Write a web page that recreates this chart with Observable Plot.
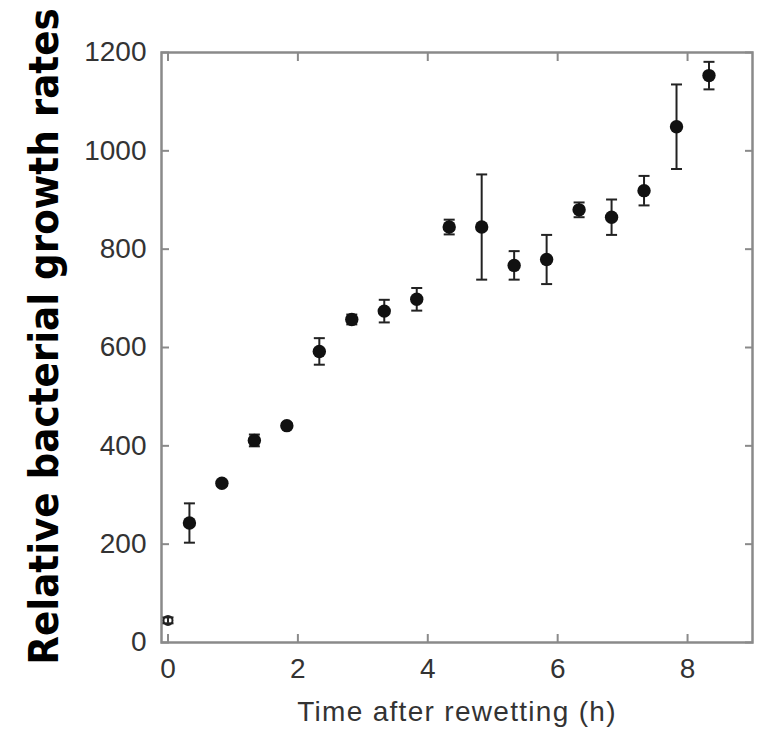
<!DOCTYPE html>
<html><head><meta charset="utf-8">
<script src="https://cdn.jsdelivr.net/npm/d3@7"></script>
<script src="https://cdn.jsdelivr.net/npm/@observablehq/plot@0.6"></script>
<style>html,body{margin:0;padding:0;background:#fff} #chart{width:757px;height:729px}</style>
</head><body><div id="chart"></div>
<script>
const time = [0, 0.33, 0.83, 1.33, 1.83, 2.33, 2.83, 3.33, 3.83, 4.33, 4.83, 5.33, 5.83, 6.33, 6.83, 7.33, 7.83, 8.33];
const rate = [45, 243, 324, 411, 441, 592, 657, 674, 698, 845, 845, 767, 779, 880, 865, 919, 1049, 1153];
const err  = [6, 40, 5, 12, 5, 27, 10, 23, 23, 15, 107, 29, 50, 15, 36, 30, 86, 28];
const markerStyle = ["open","filled","filled","filled","filled","filled","filled","filled","filled","filled","filled","filled","filled","filled","filled","filled","filled","filled"];
const xTicks = [0, 2, 4, 6, 8];
const yTicks = [0, 200, 400, 600, 800, 1000, 1200];
const xLabel = "Time after rewetting (h)";
const yLabel = "Relative bacterial growth rates";

const data = time.map((t, i) => ({t, v: rate[i], lo: rate[i] - err[i], hi: rate[i] + err[i], m: markerStyle[i]}));
const filled = data.filter(d => d.m === "filled");
const open = data.filter(d => d.m === "open");

const capShape = {draw(ctx, size) { const r = Math.sqrt(size / Math.PI); ctx.moveTo(-r, 0); ctx.lineTo(r, 0); }};
const frameGray = "#8a8a8a";
const textGray = "#333";
const plain = d => String(d);

const chart = Plot.plot({
  width: 757, height: 729,
  marginLeft: 161, marginRight: 5, marginTop: 52, marginBottom: 87,
  style: {fontFamily: "'Liberation Sans', Arial, sans-serif", fontSize: "28px", background: "white", color: textGray},
  x: {domain: [-0.1, 9]},
  y: {domain: [0, 1200]},
  marks: [
    Plot.frame({stroke: frameGray, strokeWidth: 2.5}),
    Plot.axisX(xTicks, {anchor: "bottom", tickSize: -8, tickFormat: () => "", stroke: frameGray, strokeWidth: 2, label: null}),
    Plot.axisX(xTicks, {anchor: "top", tickSize: -8, tickFormat: () => "", stroke: frameGray, strokeWidth: 2, label: null}),
    Plot.axisY(yTicks, {anchor: "left", tickSize: -8, tickFormat: () => "", stroke: frameGray, strokeWidth: 2, label: null}),
    Plot.axisY(yTicks, {anchor: "right", tickSize: -8, tickFormat: () => "", stroke: frameGray, strokeWidth: 2, label: null}),
    Plot.axisX(xTicks, {anchor: "bottom", tickSize: 0, tickPadding: 16, tickFormat: plain, fill: textGray, fontSize: 28, label: null}),
    Plot.axisY(yTicks, {anchor: "left", tickSize: 0, tickPadding: 15, tickFormat: plain, fill: textGray, fontSize: 28, label: null}),
    Plot.ruleX(data, {x: "t", y1: "lo", y2: "hi", stroke: "#222", strokeWidth: 2}),
    Plot.dot(data, {x: "t", y: "hi", symbol: capShape, r: 5.5, fill: "none", stroke: "#222", strokeWidth: 2}),
    Plot.dot(data, {x: "t", y: "lo", symbol: capShape, r: 5.5, fill: "none", stroke: "#222", strokeWidth: 2}),
    Plot.dot(filled, {x: "t", y: "v", r: 6.7, fill: "#111", stroke: "none"}),
    Plot.dot(open, {x: "t", y: "v", r: 4.5, fill: "none", stroke: "#222", strokeWidth: 2}),
    Plot.text([xLabel], {text: d => d, frameAnchor: "bottom", dy: 78, lineAnchor: "bottom", fontSize: 28, fill: textGray}),
    Plot.text([yLabel], {text: d => d, frameAnchor: "left", rotate: -90, dx: -104, dy: -11, lineAnchor: "bottom", textAnchor: "middle",
      fontSize: 41.5, fontWeight: "bold", fontFamily: "'DejaVu Sans Condensed', 'DejaVu Sans', sans-serif", fill: "#000"})
  ]
});
document.getElementById("chart").appendChild(chart);
d3.select(chart).selectAll("text").filter(function() { return this.textContent === xLabel; }).attr("letter-spacing", "1.3px");
</script>
</body></html>
